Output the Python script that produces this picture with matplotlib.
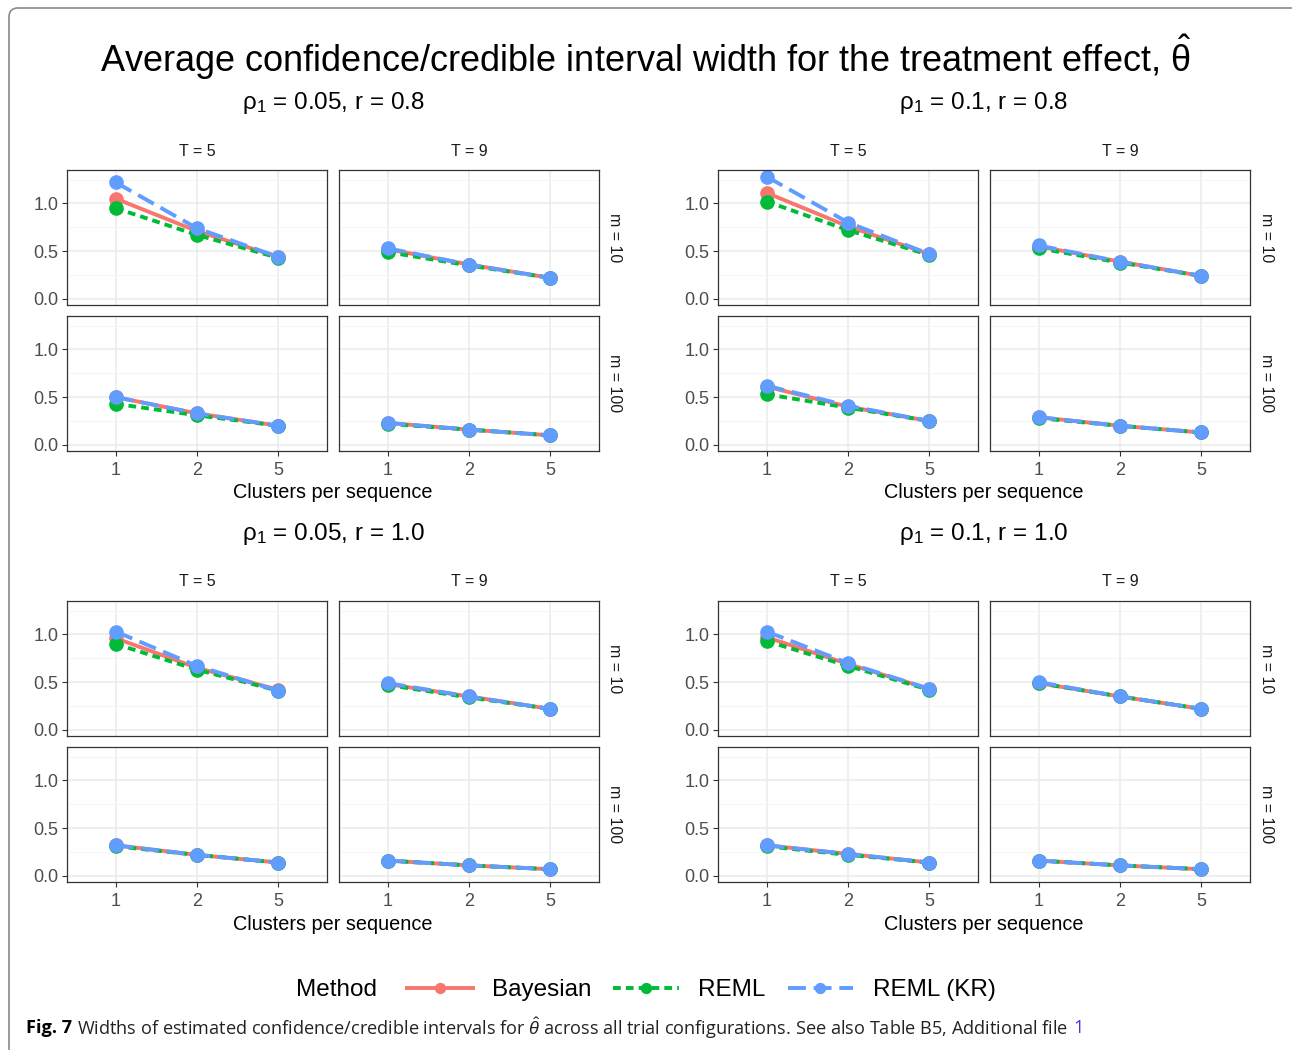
import matplotlib
matplotlib.use("Agg")
import matplotlib.pyplot as plt
from matplotlib.lines import Line2D
from matplotlib.patches import FancyBboxPatch
from matplotlib.transforms import IdentityTransform

plt.rcParams["font.family"] = ["Liberation Sans", "DejaVu Sans"]
plt.rcParams["mathtext.fontset"] = "custom"
plt.rcParams["mathtext.rm"] = "Liberation Sans"
plt.rcParams["mathtext.it"] = "Liberation Sans:italic"

# x categories (clusters per sequence)
clusters = ["1", "2", "5"]
scenarios = [r"ρ$_1$ = 0.05, r = 0.8", r"ρ$_1$ = 0.1, r = 0.8",
             r"ρ$_1$ = 0.05, r = 1.0", r"ρ$_1$ = 0.1, r = 1.0"]
T_labels = ["T = 5", "T = 9"]
m_labels = ["m = 10", "m = 100"]
methods = ["Bayesian", "REML", "REML (KR)"]

# per scenario: [T5 m10, T9 m10, T5 m100, T9 m100]
bayes_s1 = [[1.05, 0.71, 0.44], [0.52, 0.36, 0.22], [0.50, 0.33, 0.20], [0.23, 0.16, 0.10]]
bayes_s2 = [[1.11, 0.76, 0.47], [0.55, 0.39, 0.24], [0.61, 0.40, 0.25], [0.29, 0.20, 0.13]]
bayes_s3 = [[0.96, 0.65, 0.42], [0.48, 0.35, 0.22], [0.32, 0.22, 0.14], [0.16, 0.11, 0.07]]
bayes_s4 = [[0.97, 0.69, 0.43], [0.49, 0.35, 0.22], [0.32, 0.23, 0.14], [0.16, 0.11, 0.07]]

reml_s1 = [[0.95, 0.67, 0.43], [0.49, 0.35, 0.22], [0.43, 0.31, 0.20], [0.22, 0.16, 0.10]]
reml_s2 = [[1.02, 0.72, 0.46], [0.53, 0.38, 0.24], [0.53, 0.39, 0.25], [0.28, 0.20, 0.13]]
reml_s3 = [[0.90, 0.63, 0.41], [0.47, 0.34, 0.22], [0.31, 0.22, 0.14], [0.16, 0.11, 0.07]]
reml_s4 = [[0.93, 0.67, 0.42], [0.49, 0.35, 0.22], [0.31, 0.22, 0.14], [0.16, 0.11, 0.07]]

kr_s1 = [[1.22, 0.74, 0.44], [0.53, 0.36, 0.22], [0.50, 0.33, 0.20], [0.23, 0.16, 0.10]]
kr_s2 = [[1.28, 0.80, 0.47], [0.56, 0.39, 0.24], [0.62, 0.41, 0.25], [0.29, 0.20, 0.13]]
kr_s3 = [[1.03, 0.67, 0.41], [0.49, 0.35, 0.22], [0.32, 0.22, 0.14], [0.16, 0.11, 0.07]]
kr_s4 = [[1.03, 0.70, 0.43], [0.50, 0.35, 0.22], [0.32, 0.23, 0.14], [0.16, 0.11, 0.07]]

data = {"Bayesian": [bayes_s1, bayes_s2, bayes_s3, bayes_s4],
        "REML": [reml_s1, reml_s2, reml_s3, reml_s4],
        "REML (KR)": [kr_s1, kr_s2, kr_s3, kr_s4]}

styles = {"Bayesian": ("#F8766D", "-"),
          "REML": ("#00BA38", (0, (2.0, 1.3))),
          "REML (KR)": ("#619CFF", (0, (4.6, 2.0)))}
LW, MS = 2.8, 9.5

W, H = 1292, 1050
fig = plt.figure(figsize=(W / 100, H / 100), dpi=100)


def fx(x):
    return x / W


def fy(y):
    return 1 - y / H


group_x = [67, 718]
group_y = [170, 601]
col_off = [0, 272]
row_off = [0, 146]
pw, ph = 260, 135

for s in range(4):
    gx, gy = group_x[s % 2], group_y[s // 2]
    fig.text(fx(gx + 266), fy(gy - 67), scenarios[s], ha="center", va="center", fontsize=17.5)
    fig.text(fx(gx + 266), fy(gy + 323), "Clusters per sequence", ha="center", va="center", fontsize=14.3)
    for r in range(2):
        for c in range(2):
            x0, y0 = gx + col_off[c], gy + row_off[r]
            ax = fig.add_axes([fx(x0), fy(y0 + ph), pw / W, ph / H])
            xs = [1, 2, 3]
            for name in methods:
                col, ls = styles[name]
                ax.plot(xs, data[name][s][r * 2 + c], color=col, ls=ls, lw=LW,
                        marker="o", ms=MS, mec=col, solid_capstyle="butt")
            ax.set_xlim(0.4, 3.6)
            ax.set_ylim(-0.064, 1.35)
            ax.set_xticks(xs)
            ax.set_xticklabels(clusters)
            ax.set_yticks([0, 0.5, 1.0])
            ax.set_yticklabels(["0.0", "0.5", "1.0"])
            ax.set_yticks([0.25, 0.75, 1.25], minor=True)
            ax.grid(which="major", color="#EBEBEB", lw=1.1)
            ax.grid(which="minor", axis="y", color="#F4F4F4", lw=0.6)
            ax.set_axisbelow(True)
            for sp in ax.spines.values():
                sp.set_color("#333333")
                sp.set_linewidth(0.9)
            ax.tick_params(which="major", length=3.5, width=0.8, color="#333333",
                           labelsize=13, labelcolor="#4D4D4D", pad=2.5)
            ax.tick_params(axis="x", pad=4.5)
            ax.tick_params(which="minor", length=0)
            if r == 0:
                ax.tick_params(axis="x", bottom=False, labelbottom=False)
                fig.text(fx(x0 + pw / 2), fy(gy - 19), T_labels[c], ha="center",
                         va="center", fontsize=11.5, color="#1A1A1A")
            if c == 1:
                ax.tick_params(axis="y", left=False, labelleft=False)
                fig.text(fx(x0 + pw + 16), fy(y0 + ph / 2), m_labels[r], ha="center",
                         va="center", rotation=270, fontsize=11.5, color="#1A1A1A")

fig.text(fx(645), fy(57), r"Average confidence/credible interval width for the treatment effect, $\hat{\mathrm{\theta}}$",
         ha="center", va="center", fontsize=26)

# legend
handles = [Line2D([], [], color=styles[n][0], ls=styles[n][1], lw=LW, marker="o", ms=MS * 0.75)
           for n in methods]
fig.text(fx(296), fy(990), "Method", ha="left", va="center", fontsize=17.5)
fig.legend(handles, methods, loc="center left", bbox_to_anchor=(fx(385), fy(990)),
           ncol=3, frameon=False, fontsize=17.5, handlelength=2.7, handletextpad=0.8,
           columnspacing=0.9)

# caption
fig.canvas.draw()
rend = fig.canvas.get_renderer()
cap_font = ["Open Sans", "DejaVu Sans"]
cap_size = 13.1
t1 = fig.text(fx(26), fy(1028), "Fig. 7", ha="left", va="center", fontsize=cap_size,
              fontweight="bold", family=cap_font)
bb = t1.get_window_extent(rend)
t2 = fig.text(bb.x1 / W + 5 / W, fy(1028),
              r"Widths of estimated confidence/credible intervals for $\hat{\theta}$ across all trial configurations. See also Table B5, Additional file",
              ha="left", va="center", fontsize=cap_size, family=cap_font, color="#222222")
bb2 = t2.get_window_extent(rend)
fig.text(bb2.x1 / W + 5 / W, fy(1028), "1", ha="left", va="center", fontsize=cap_size,
         family=cap_font, color="#3B3BD9")

frame = FancyBboxPatch((9, -30), 1320, H - 8 + 30, boxstyle="round,pad=0,rounding_size=9",
                       transform=IdentityTransform(), fill=False, edgecolor="#8A8A8A", lw=1.2)
fig.add_artist(frame)

fig.savefig("out.png", dpi=100)
